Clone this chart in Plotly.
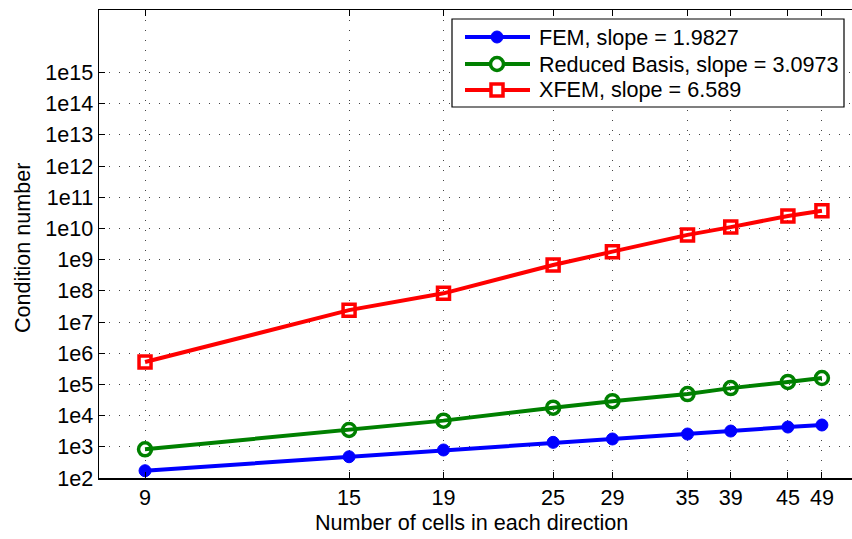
import plotly.graph_objects as go

cells = [9, 15, 19, 25, 29, 35, 39, 45, 49]
fem = [171, 480, 790, 1390, 1780, 2570, 3200, 4300, 5000]
reduced_basis = [830, 3460, 6900, 18000, 29000, 49000, 76000, 120000, 160000]
xfem = [5.2e5, 2.4e7, 8.3e7, 6.7e8, 1.8e9, 6.2e9, 1.1e10, 2.5e10, 3.7e10]

series_names = ["FEM, slope = 1.9827",
                "Reduced Basis, slope = 3.0973",
                "XFEM, slope = 6.589"]
series_colors = ["#0000FF", "#008000", "#FF0000"]

y_tick_vals = [10 ** k for k in range(2, 16)]
y_tick_text = ["1e%d" % k for k in range(2, 16)]

FONT = "Liberation Sans, Arial, Helvetica, sans-serif"
FS = 21.6

W, H = 852, 539
ML, MR, MT, MB = 99, 0, 10, 61
PW, PH = W - ML - MR, H - MT - MB


def px(xp):
    return (xp - ML) / PW


def py(yp):
    return (H - MB - yp) / PH


fig = go.Figure()
fig.add_trace(go.Scatter(
    x=cells, y=fem, name=series_names[0], mode="lines+markers",
    line=dict(color=series_colors[0], width=4),
    marker=dict(symbol="circle", size=12, color=series_colors[0],
                line=dict(color=series_colors[0], width=1))))
fig.add_trace(go.Scatter(
    x=cells, y=reduced_basis, name=series_names[1], mode="lines+markers",
    line=dict(color=series_colors[1], width=4),
    marker=dict(symbol="circle-open", size=13, color=series_colors[1],
                line=dict(color=series_colors[1], width=3.5))))
fig.add_trace(go.Scatter(
    x=cells, y=xfem, name=series_names[2], mode="lines+markers",
    line=dict(color=series_colors[2], width=4),
    marker=dict(symbol="square-open", size=12, color=series_colors[2],
                line=dict(color=series_colors[2], width=3.5))))

# ---- manual legend (box, sample lines, sample markers, text) ----
shapes = [dict(type="rect", xref="paper", yref="paper",
               x0=px(452), x1=px(844), y0=py(107), y1=py(19),
               line=dict(color="black", width=1.2), fillcolor="white",
               layer="above")]
annotations = []
row_y = [37, 64, 90]
for i, (name, col) in enumerate(zip(series_names, series_colors)):
    yy = py(row_y[i])
    shapes.append(dict(type="line", xref="paper", yref="paper",
                       x0=px(465), x1=px(530), y0=yy, y1=yy,
                       line=dict(color=col, width=4), layer="above"))
    if i == 0:
        shapes.append(dict(type="circle", xref="paper", yref="paper",
                           xsizemode="pixel", ysizemode="pixel",
                           xanchor=px(497), yanchor=yy,
                           x0=-6, x1=6, y0=-6, y1=6,
                           fillcolor=col, line=dict(color=col, width=1),
                           layer="above"))
    elif i == 1:
        shapes.append(dict(type="circle", xref="paper", yref="paper",
                           xsizemode="pixel", ysizemode="pixel",
                           xanchor=px(497), yanchor=yy,
                           x0=-6.5, x1=6.5, y0=-6.5, y1=6.5,
                           fillcolor="white", line=dict(color=col, width=3.5),
                           layer="above"))
    else:
        shapes.append(dict(type="rect", xref="paper", yref="paper",
                           xsizemode="pixel", ysizemode="pixel",
                           xanchor=px(497), yanchor=yy,
                           x0=-6, x1=6, y0=-6, y1=6,
                           fillcolor="white", line=dict(color=col, width=3.5),
                           layer="above"))
    annotations.append(dict(text=name, xref="paper", yref="paper",
                            x=px(537), y=yy, xanchor="left", yanchor="middle",
                            showarrow=False,
                            font=dict(family=FONT, size=FS, color="black")))

# axis titles
annotations.append(dict(text="Number of cells in each direction",
                        xref="paper", yref="paper", x=px(471), y=py(522),
                        xanchor="center", yanchor="middle", showarrow=False,
                        font=dict(family=FONT, size=FS, color="black")))
annotations.append(dict(text="Condition number", textangle=-90,
                        xref="paper", yref="paper", x=px(22), y=py(248),
                        xanchor="center", yanchor="middle", showarrow=False,
                        font=dict(family=FONT, size=FS, color="black")))

fig.update_layout(
    width=W, height=H,
    margin=dict(l=ML, r=MR, t=MT, b=MB),
    paper_bgcolor="white", plot_bgcolor="white",
    font=dict(family=FONT, size=FS, color="black"),
    showlegend=False,
    hovermode=False,
    shapes=shapes,
    annotations=annotations,
)

fig.update_xaxes(
    type="log",
    range=[0.9042, 1.7229],
    tickvals=cells, ticktext=[str(c) for c in cells],
    ticks="inside", ticklen=6, tickwidth=1, tickcolor="black",
    showline=True, linecolor="black", linewidth=1.5, mirror="ticks",
    showgrid=True, gridcolor="#444444", gridwidth=1, griddash="1px,9px",
    zeroline=False,
    tickfont=dict(family=FONT, size=FS, color="black"),
)
fig.update_yaxes(
    type="log",
    range=[2, 17],
    tickvals=y_tick_vals, ticktext=y_tick_text,
    ticks="inside", ticklen=6, tickwidth=1, tickcolor="black",
    showline=True, linecolor="black", linewidth=1.5, mirror=False,
    showgrid=True, gridcolor="#444444", gridwidth=1, griddash="1px,9px",
    zeroline=False,
    tickfont=dict(family=FONT, size=FS, color="black"),
)

fig.write_html("out.html",
               config={"displayModeBar": False, "staticPlot": True},
               post_script="document.body.style.margin='0';"
                           "document.body.style.overflow='hidden';")
